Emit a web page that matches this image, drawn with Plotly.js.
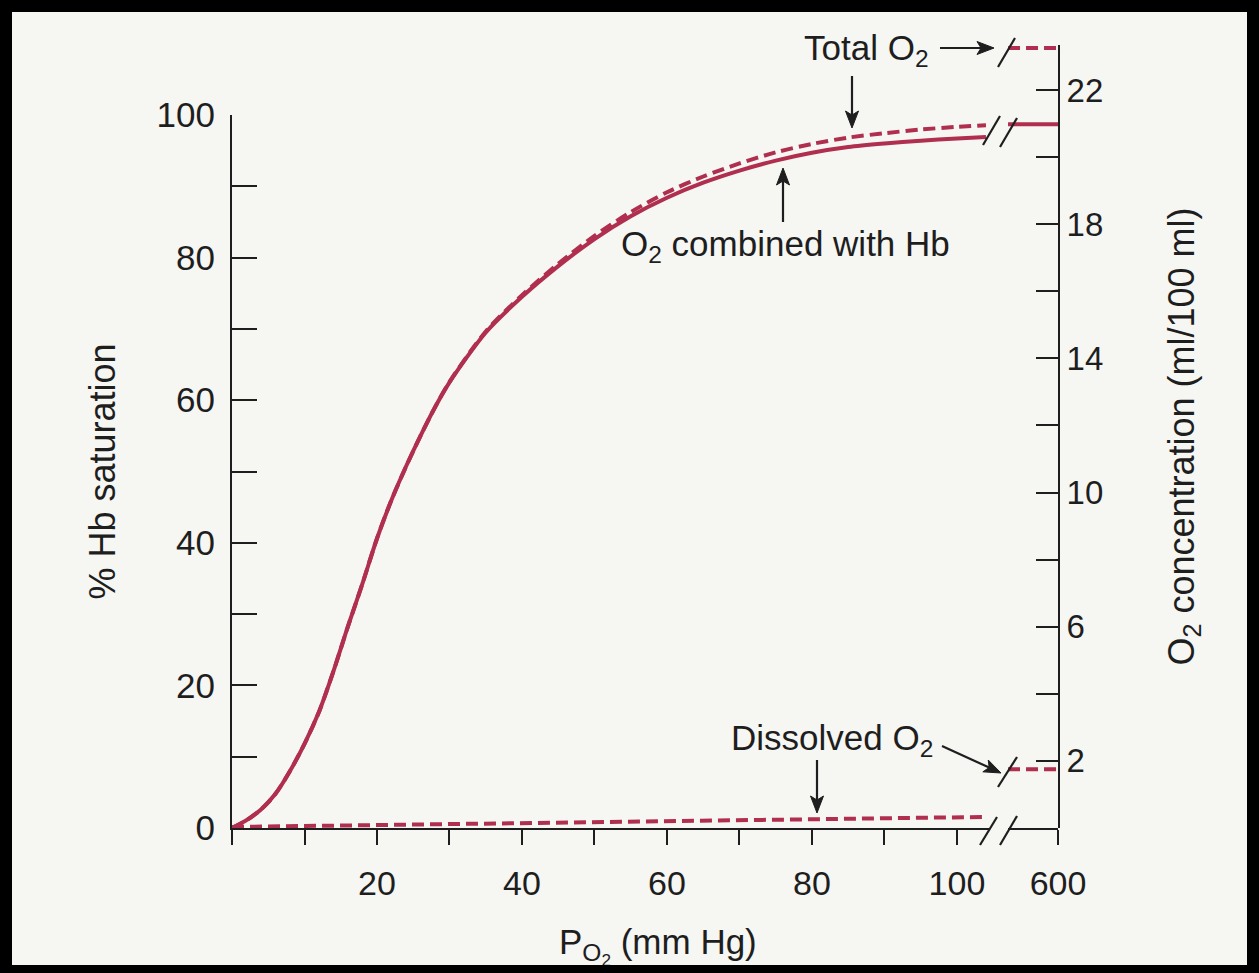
<!DOCTYPE html>
<html>
<head>
<meta charset="utf-8">
<script src="https://cdn.plot.ly/plotly-3.0.1.min.js"></script>
<style>
  html, body { margin: 0; padding: 0; width: 1259px; height: 973px; overflow: hidden; background: #000; }
  #plot { position: absolute; left: 12px; top: 12px; width: 1235px; height: 953px; overflow: hidden; }
</style>
</head>
<body>
<div id="plot"></div>
<script>
// ---------------- data ----------------
// P_O2 in mm Hg (left, unbroken part of the axis)
const pressure = [0, 2, 4, 6, 8, 10, 12, 14, 16, 18, 20, 22, 24, 26, 28, 30, 35, 40, 45, 50, 55, 60, 65, 70, 75, 80, 85, 90, 95, 100, 104];
// % Hb saturation (solid curve, left axis)
const hbSaturation = [0, 1.1, 2.6, 4.8, 8, 11.8, 16.3, 22, 28.3, 34.3, 40.6, 46, 50.7, 55, 59, 62.5, 69.5, 74.5, 78.8, 82.6, 85.8, 88.4, 90.5, 92.2, 93.6, 94.7, 95.5, 96, 96.4, 96.7, 96.9];
// Total O2 (dashed curve, right axis, ml/100 ml)
const totalO2 = [0, 0.23, 0.55, 1.02, 1.70, 2.51, 3.46, 4.68, 6.01, 7.29, 8.63, 9.78, 10.77, 11.69, 12.54, 13.30, 14.80, 15.88, 16.82, 17.65, 18.36, 18.95, 19.42, 19.81, 20.14, 20.39, 20.58, 20.71, 20.82, 20.90, 20.95];
// Dissolved O2 (dashed line near the bottom, right axis)
const dissolvedPressure = [0, 20, 40, 60, 80, 104];
const dissolvedO2 = [0.03, 0.09, 0.15, 0.21, 0.27, 0.33];
// Beyond the axis break (up to 600 mm Hg)
const breakPressure = [590, 600];
const hbSatAt600 = [98.7, 98.7];
const totalO2At600 = [23.25, 23.25];
const dissolvedO2At600 = [1.75, 1.75];
// Tick labels
const xTickVals = [20, 40, 60, 80, 100];
const xTickText = ['20', '40', '60', '80', '100'];
const xMinorVals = [0, 10, 30, 50, 70, 90];
const x2TickVals = [600];
const x2TickText = ['600'];
const yTickVals = [0, 20, 40, 60, 80, 100];
const yTickText = ['0', '20', '40', '60', '80', '100'];
const yMinorVals = [10, 30, 50, 70, 90];
const y2TickVals = [2, 6, 10, 14, 18, 22];
const y2TickText = ['2', '6', '10', '14', '18', '22'];
const y2MinorVals = [4, 8, 12, 16, 20];

// ---------------- styling ----------------
const SANS = "'Liberation Sans', Arial, sans-serif";
const INK = '#1e1e1e';
const RED = '#b02e4e';

// page pixel -> paper fraction (plot area spans x 232..1058, y 45..828 on the page)
const px = X => (X - 232) / 826;
const py = Y => (828 - Y) / 783;

const traces = [
  { x: pressure, y: hbSaturation, xaxis: 'x', yaxis: 'y', mode: 'lines', name: 'O2 combined with Hb',
    line: { color: RED, width: 4, shape: 'spline', smoothing: 0.8 } },
  { x: pressure, y: totalO2, xaxis: 'x', yaxis: 'y2', mode: 'lines', name: 'Total O2',
    line: { color: RED, width: 4, dash: '12px,6px', shape: 'spline', smoothing: 0.8 } },
  { x: dissolvedPressure, y: dissolvedO2, xaxis: 'x', yaxis: 'y2', mode: 'lines', name: 'Dissolved O2',
    line: { color: RED, width: 4, dash: '12px,6px' } },
  { x: breakPressure, y: hbSatAt600, xaxis: 'x2', yaxis: 'y', mode: 'lines', name: 'Hb 600',
    line: { color: RED, width: 4 } },
  { x: breakPressure, y: totalO2At600, xaxis: 'x2', yaxis: 'y2', mode: 'lines', name: 'Total 600',
    line: { color: RED, width: 4, dash: '12px,6px' } },
  { x: breakPressure, y: dissolvedO2At600, xaxis: 'x2', yaxis: 'y2', mode: 'lines', name: 'Dissolved 600',
    line: { color: RED, width: 4, dash: '12px,6px' } }
];

const axisCommon = {
  showline: true, linecolor: INK, linewidth: 2,
  tickcolor: INK, tickwidth: 2,
  showgrid: false, zeroline: false, fixedrange: true
};

const lineShape = (x0, y0, x1, y1) => ({ type: 'line', xref: 'paper', yref: 'paper',
  x0: px(x0), y0: py(y0), x1: px(x1), y1: py(y1), line: { color: INK, width: 2.2 } });

// arrow drawn from tail (x0,y0) to tip (x1,y1) in page pixels: a line plus a filled head
function arrow(x0, y0, x1, y1) {
  const L = 17, Hw = 6.5;
  const dx = x1 - x0, dy = y1 - y0, d = Math.hypot(dx, dy);
  const ux = dx / d, uy = dy / d;
  const bx = x1 - ux * L, by = y1 - uy * L;
  const p1 = [bx - uy * Hw, by + ux * Hw], p2 = [bx + uy * Hw, by - ux * Hw];
  const path = 'M' + px(x1) + ',' + py(y1) + ' L' + px(p1[0]) + ',' + py(p1[1]) +
               ' L' + px(bx + ux * 4) + ',' + py(by + uy * 4) +
               ' L' + px(p2[0]) + ',' + py(p2[1]) + ' Z';
  return [
    lineShape(x0, y0, bx + ux * 4, by + uy * 4),
    { type: 'path', xref: 'paper', yref: 'paper', path: path, fillcolor: INK, line: { color: INK, width: 1 } }
  ];
}

const textNote = (text, X, Y, size) => ({ text: text, x: px(X), y: py(Y), xref: 'paper', yref: 'paper',
  xanchor: 'center', yanchor: 'middle', showarrow: false, font: { family: SANS, size: size, color: INK } });

const layout = {
  width: 1235, height: 953,
  margin: { l: 220, r: 189, t: 33, b: 137, pad: 0 },
  paper_bgcolor: '#f6f6f3', plot_bgcolor: 'rgba(0,0,0,0)',
  showlegend: false,
  font: { family: SANS, color: INK, size: 34 },
  xaxis: Object.assign({}, axisCommon, {
    domain: [0, 0.9172], range: [0, 104.5], anchor: 'y',
    ticks: 'outside', ticklen: 15, tickvals: xTickVals, ticktext: xTickText,
    minor: { tickvals: xMinorVals, ticks: 'outside', ticklen: 15, tickwidth: 2, tickcolor: INK },
    tickfont: { family: SANS, size: 34, color: INK }, ticklabelstandoff: 9
  }),
  xaxis2: Object.assign({}, axisCommon, {
    domain: [0.9395, 1], range: [590, 600], anchor: 'y',
    ticks: 'outside', ticklen: 15, tickvals: x2TickVals, ticktext: x2TickText,
    tickfont: { family: SANS, size: 34, color: INK }, ticklabelstandoff: 9
  }),
  yaxis: Object.assign({}, axisCommon, {
    domain: [0, 0.9106], range: [0, 100], anchor: 'x',
    ticks: 'inside', ticklen: 25, tickvals: yTickVals, ticktext: yTickText,
    minor: { tickvals: yMinorVals, ticks: 'inside', ticklen: 25, tickwidth: 2, tickcolor: INK },
    tickfont: { family: SANS, size: 35, color: INK }, ticklabelstandoff: 8,
    title: { text: '% Hb saturation', font: { family: SANS, size: 36, color: INK }, standoff: 30 }
  }),
  yaxis2: Object.assign({}, axisCommon, {
    domain: [0, 1], range: [0, 23.34], anchor: 'x2', side: 'right',
    ticks: 'inside', ticklen: 22, tickvals: y2TickVals, ticktext: y2TickText,
    minor: { tickvals: y2MinorVals, ticks: 'inside', ticklen: 22, tickwidth: 2, tickcolor: INK },
    tickfont: { family: SANS, size: 33, color: INK }, ticklabelstandoff: 0,
    title: { text: 'O<sub>2</sub> concentration (ml/100 ml)', font: { family: SANS, size: 36, color: INK }, standoff: 66 }
  }),
  shapes: [].concat(
    [lineShape(983, 145, 1000, 116), lineShape(1000, 147, 1017, 118),
     lineShape(998, 67, 1015, 38),
     lineShape(998, 787, 1017, 757),
     lineShape(980, 845, 997, 817), lineShape(1000, 845, 1017, 816)],
    arrow(940, 48, 994, 48),
    arrow(852, 76, 852, 128),
    arrow(783, 222, 783, 168),
    arrow(942, 746, 1001, 773),
    arrow(817, 760, 817, 813)
  ),
  annotations: [
    textNote('Total O<sub>2</sub>', 866, 50, 35),
    textNote('O<sub>2</sub> combined with Hb', 785, 246, 35),
    textNote('Dissolved O<sub>2</sub>', 832, 740, 35),
    textNote('P<sub>O<sub>2</sub></sub> (mm Hg)', 658, 946, 35)
  ]
};

Plotly.newPlot('plot', traces, layout, { displayModeBar: false, staticPlot: true });
</script>
</body>
</html>
